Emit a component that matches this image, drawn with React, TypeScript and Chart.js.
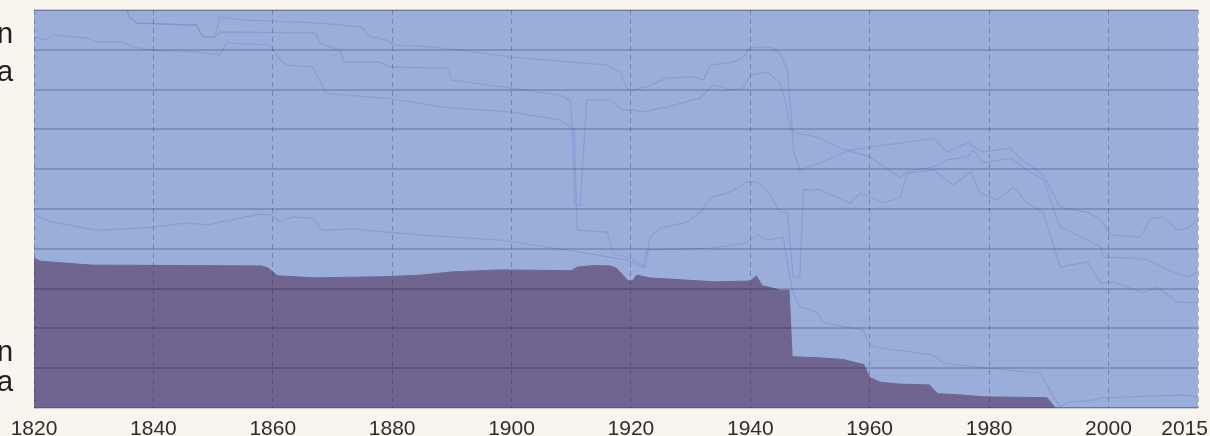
import React, { useEffect, useRef } from "react";
import { Chart, registerables } from "chart.js";

Chart.register(...registerables);

// ---------- data ----------
const xTicks = [1820, 1840, 1860, 1880, 1900, 1920, 1940, 1960, 1980, 2000, 2015];
const yTicks = [0, 10, 20, 30, 40, 50, 60, 70, 80, 90, 100];

const totalYears = [1820, 2015];
const totalShare = [100, 100];

// highlighted series (dark purple area)
const colonyYears = [1820, 1821, 1829.6, 1858.1, 1859.2, 1860.8, 1867, 1879, 1885, 1890, 1898, 1910, 1911, 1914, 1916.5, 1917.5, 1919.5, 1920.2, 1921, 1923, 1934, 1940, 1941, 1942, 1943, 1945, 1946.5, 1947, 1951.5, 1955.5, 1959, 1960, 1961.7, 1965, 1970, 1971.4, 1975, 1979, 1989.7, 1991.1, 2015];
const colonyShare = [37.7, 36.9, 35.9, 35.7, 35.2, 33.2, 32.7, 33.0, 33.4, 34.2, 34.7, 34.5, 35.4, 35.8, 35.7, 35.2, 32.0, 31.9, 33.4, 32.7, 31.7, 31.9, 33.2, 30.7, 30.4, 29.6, 29.6, 12.9, 12.6, 12.2, 10.9, 7.7, 6.5, 6.0, 5.8, 3.6, 3.3, 2.8, 2.6, 0, 0];

// faint boundaries of the other (dimmed) series, cumulative %
const lineAYears = [1820, 1835.5, 1836, 1837.2, 1847.2, 1848.3, 1850.3, 1851.1, 1855, 1868, 1875, 1876.3, 1879, 1880.5, 1886.8, 1891.8, 1899.7, 1910.3, 1916, 1918.2, 1919.3, 1920.4, 1922.7, 1926, 1930.4, 1932.1, 1933.3, 1937.1, 1938.8, 1940, 1943.3, 1945, 1946.2, 1947, 1947.2, 1948.3, 1951.7, 1956.7, 1965.1, 1970.7, 1973, 1976.4, 1979, 1983.6, 1985.2, 1989.1, 1991.9, 1996.5, 1998.7, 2000.3, 2005.4, 2007.1, 2009.2, 2011.6, 2013.3, 2015];
const lineAValues = [100, 100, 98.2, 96.7, 96.2, 93.2, 93.2, 98.2, 97.5, 96.7, 95.7, 93.2, 92.5, 91.2, 90.7, 89.9, 88.2, 86.9, 86.2, 84.4, 80.4, 79.9, 80.7, 82.9, 83.2, 82.4, 86.2, 86.9, 88.2, 90.5, 90.7, 89.2, 84.9, 70.6, 64.8, 59.8, 61.6, 64.8, 66.6, 67.8, 64.3, 66.6, 64.3, 65.3, 62.8, 58.5, 50.5, 49.2, 47.2, 43.5, 43.0, 47.7, 48.0, 44.7, 45.2, 47.2];

const lineBYears = [1820, 1835.5, 1836, 1837.2, 1847.2, 1848.3, 1850.3, 1851.1, 1867.2, 1867.9, 1871.2, 1872, 1878, 1879.6, 1889.2, 1890, 1899.7, 1908.1, 1909.8, 1910.1, 1910.6, 1911.5, 1912.6, 1916.5, 1918.5, 1920.4, 1922, 1926, 1931.6, 1933.8, 1937.1, 1938.8, 1940, 1942.8, 1945, 1945.8, 1946.7, 1947.5, 1951.2, 1955, 1960, 1965.1, 1966.3, 1970.7, 1973, 1976.4, 1977.4, 1979, 1983.6, 1986.4, 1989.1, 1991.9, 1996.5, 1998.7, 1999.2, 2004.2, 2006.6, 2009.9, 2013.3, 2015];
const lineBValues = [100, 100, 98.2, 96.7, 96.2, 93.2, 93.2, 94.5, 94.2, 91.7, 89.9, 86.9, 86.9, 85.7, 85.4, 82.4, 80.4, 78.6, 77.4, 72.4, 51.0, 51.0, 77.4, 77.4, 74.9, 74.9, 74.4, 75.6, 77.9, 81.2, 79.9, 80.4, 83.7, 84.4, 81.7, 77.4, 70.6, 69.1, 68.1, 65.3, 63.1, 58.0, 59.3, 60.6, 62.3, 63.1, 64.8, 61.6, 62.8, 59.8, 57.3, 45.5, 42.2, 40.5, 37.9, 37.7, 37.2, 34.7, 32.9, 34.2];

const lineCYears = [1820, 1822.1, 1823.1, 1828.8, 1830.5, 1834.8, 1836.5, 1839.9, 1847.7, 1851.1, 1852.3, 1859.5, 1861.2, 1862.3, 1866.7, 1868.4, 1869, 1876.3, 1879.1, 1884.6, 1888.5, 1899.7, 1908.1, 1909.8, 1910.5, 1911, 1916, 1917, 1919.3, 1921.5, 1922.4, 1923.2, 1924.9, 1929.4, 1931.6, 1933.3, 1936.6, 1939.5, 1941.1, 1942.8, 1945, 1946.2, 1947.2, 1948.3, 1948.9, 1951.7, 1956.7, 1958.4, 1962.3, 1965.1, 1966.3, 1970.7, 1974, 1976.9, 1978.5, 1981.4, 1984.1, 1986.4, 1989.1, 1991.9, 1996.5, 1998.7, 2000.8, 2005.9, 2008.2, 2011.6, 2015];
const lineCValues = [93.2, 92.5, 93.7, 93.0, 92.0, 92.0, 90.7, 89.9, 89.4, 88.7, 91.7, 91.2, 87.4, 86.2, 85.7, 80.7, 79.1, 78.1, 77.9, 76.6, 75.6, 74.4, 72.4, 70.6, 70.0, 44.7, 44.2, 38.9, 37.9, 36.4, 35.2, 43.0, 45.2, 46.7, 49.2, 52.8, 54.3, 56.8, 56.8, 54.8, 49.2, 49.0, 32.9, 32.9, 54.8, 54.8, 51.5, 54.0, 51.5, 53.0, 59.0, 59.8, 56.0, 59.3, 54.0, 52.3, 55.5, 51.5, 49.0, 35.4, 36.7, 31.4, 31.7, 28.9, 30.4, 26.6, 26.4];

const lineDYears = [1820, 1823.1, 1830.5, 1838.2, 1845.6, 1848.9, 1857.8, 1859.8, 1861.2, 1863.3, 1866.7, 1868.2, 1873.4, 1879.1, 1884.6, 1898.1, 1909.3, 1916.5, 1919.3, 1922, 1922.7, 1933.8, 1939.5, 1941.1, 1942.8, 1945.5, 1947, 1948.3, 1951.2, 1952.2, 1958.9, 1959.6, 1960.6, 1970.7, 1972.3, 1979, 1988.6, 1990.8, 1991.9, 1993.1, 1994.1, 1997.5, 1998.7, 2012.6, 2015];
const lineDValues = [48.5, 46.7, 44.7, 45.2, 46.5, 46.0, 48.7, 48.5, 46.7, 48.0, 47.7, 44.7, 45.0, 44.2, 43.5, 42.2, 39.7, 37.9, 37.2, 35.4, 39.7, 40.2, 41.5, 43.5, 42.2, 43.0, 29.6, 25.4, 24.1, 21.4, 19.6, 17.1, 15.3, 13.3, 11.3, 10.1, 8.8, 2.8, 0.3, 1.3, 1.5, 2.0, 2.5, 3.3, 2.8];

// ---------- styles ----------
const BG = "#f8f5ee";
const LIGHT = "rgb(155,173,217)";
const DARK = "rgb(112,101,144)";
const FAINT = "rgba(115,142,205,0.5)";

const pts = (xs: number[], ys: number[]) => xs.map((x, i) => ({ x, y: ys[i] }));

const tickLabelPlugin = {
  id: "xTickLabels",
  afterDraw(chart: any) {
    const { ctx } = chart;
    const xs = chart.scales.x;
    ctx.save();
    ctx.font = '21px "Liberation Sans", Arial, sans-serif';
    ctx.fillStyle = "#2e2e2e";
    ctx.textBaseline = "alphabetic";
    ctx.textAlign = "left";
    xTicks.forEach((v) => {
      const px = xs.getPixelForValue(v);
      const label = String(v);
      const w = ctx.measureText(label).width;
      let left = px - w / 2;
      if (left + w > chart.width - 2) left = chart.width - 2 - w;
      ctx.fillText(label, left, 435);
    });
    ctx.restore();
  },
};

export default function App() {
  const ref = useRef<HTMLCanvasElement>(null);

  useEffect(() => {
    document.body.style.margin = "0";
    document.body.style.background = BG;
    const lineDs = (data: any, label: string) => ({
      label,
      data,
      borderColor: FAINT,
      borderWidth: 1.1,
      pointRadius: 0,
      fill: false,
      tension: 0,
      order: 1,
    });
    const chart = new Chart(ref.current as HTMLCanvasElement, {
      type: "line",
      data: {
        datasets: [
          {
            label: "Colony",
            data: pts(colonyYears, colonyShare),
            borderColor: DARK,
            borderWidth: 1,
            backgroundColor: DARK,
            pointRadius: 0,
            fill: "origin",
            tension: 0,
            order: 0,
          },
          lineDs(pts(lineAYears, lineAValues), "A"),
          lineDs(pts(lineBYears, lineBValues), "B"),
          lineDs(pts(lineCYears, lineCValues), "C"),
          lineDs(pts(lineDYears, lineDValues), "D"),
          {
            label: "Total",
            data: pts(totalYears, totalShare),
            borderColor: "rgb(128,145,190)",
            borderWidth: 2,
            backgroundColor: LIGHT,
            pointRadius: 0,
            fill: "origin",
            tension: 0,
            order: 2,
          },
        ],
      },
      options: {
        responsive: false,
        animation: false,
        layout: { padding: { left: 34, right: 12, top: 10, bottom: 28 } },
        plugins: { legend: { display: false }, tooltip: { enabled: false } },
        events: [],
        scales: {
          x: {
            type: "linear",
            min: 1820,
            max: 2015,
            afterBuildTicks: (s: any) => {
              s.ticks = xTicks.map((v) => ({ value: v }));
            },
            ticks: { display: false },
            grid: { color: "rgba(30,35,80,0.3)", lineWidth: 1, drawTicks: false, z: 1 },
            border: { display: false, dash: [5, 4] },
          },
          y: {
            type: "linear",
            min: 0,
            max: 100,
            afterBuildTicks: (s: any) => {
              s.ticks = yTicks.map((v) => ({ value: v }));
            },
            ticks: { display: false },
            grid: { color: "rgba(20,25,70,0.2)", lineWidth: 2, drawTicks: false, z: 1 },
            border: { display: false },
          },
        },
      },
      plugins: [tickLabelPlugin],
    } as any);
    return () => chart.destroy();
  }, []);

  const lab = (text: string, top: number) => (
    <div
      style={{
        position: "absolute",
        left: -3,
        top,
        font: '29px "Liberation Sans", Arial, sans-serif',
        lineHeight: "29px",
        color: "#1e1e1e",
        whiteSpace: "nowrap",
      }}
    >
      {text}
    </div>
  );

  return (
    <div style={{ position: "relative", width: 1210, height: 436, background: BG, overflow: "hidden" }}>
      <canvas ref={ref} width={1210} height={436} style={{ display: "block", width: 1210, height: 436 }} />
      {lab("n", 19)}
      {lab("a", 57)}
      {lab("n", 337)}
      {lab("a", 367)}
    </div>
  );
}
